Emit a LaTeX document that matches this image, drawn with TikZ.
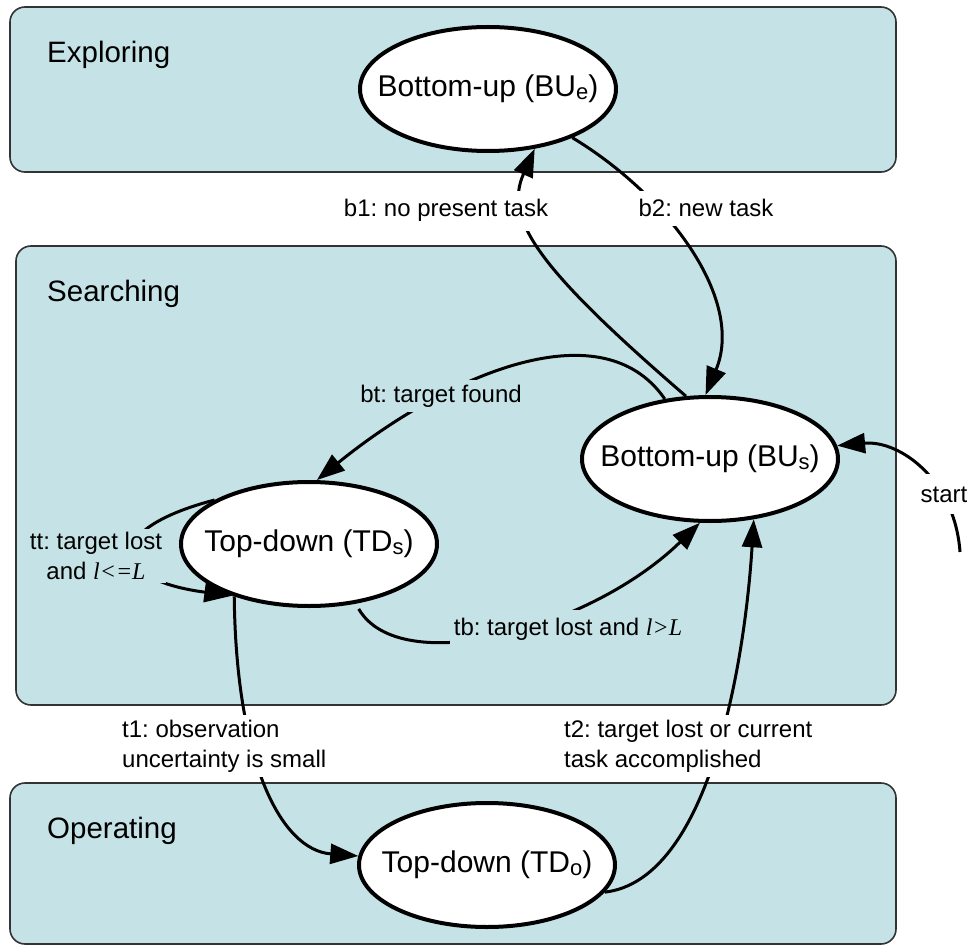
\documentclass[tikz,border=0pt]{standalone}
\usepackage{fontspec}
\setmainfont{Liberation Sans}
\newfontfamily\serifit{Liberation Serif}
\usetikzlibrary{arrows.meta,shapes.geometric}
\definecolor{regionfill}{HTML}{C5E3E6}
\definecolor{regionline}{HTML}{333333}
\frenchspacing
\tikzset{
 region/.style={draw=regionline, line width=1.6pt, fill=regionfill, rounded corners=15pt},
 regiontitle/.style={anchor=base west, font=\fontsize{29.5}{34}\selectfont, inner sep=0pt},
 state/.style={ellipse, draw=black, line width=4pt, fill=white, minimum width=256pt, minimum height=124pt, inner sep=0pt, font=\fontsize{30}{34}\selectfont},
 conn/.style={draw=black, line width=3pt, -{Triangle[length=28pt,width=20pt]}},
 lab/.style={font=\fontsize{24}{30}\selectfont, inner xsep=4pt, inner ysep=5pt},
 labw/.style={lab, fill=white},
 labt/.style={lab, fill=regionfill},
}
\newcommand{\sbs}[1]{\raisebox{-3pt}{\fontsize{22}{22}\selectfont #1}}
\newcommand{\lvar}[1]{{\serifit\itshape #1}}
\begin{document}
\begin{tikzpicture}[x=1pt,y=-1pt]
\useasboundingbox (0,0) rectangle (970,947);
% regions
\path[region] (10,7) rectangle (896,172);
\path[region] (16,246) rectangle (896,705);
\path[region] (10,783) rectangle (896,944);
\node[regiontitle] (texp) at (47,63) {Exploring};
\node[regiontitle] (tsea) at (47,301) {Searching};
\node[regiontitle] (tope) at (47,838) {Operating};
% states
\node[state] (bue) at (488,89) {\makebox[0pt]{Bottom-up (BU\sbs{e})}};
\node[state] (bus) at (710,459) {\makebox[0pt]{Bottom-up (BU\sbs{s})}};
\node[state] (tds) at (309,544) {\makebox[0pt]{Top-down (TD\sbs{s})}};
\node[state] (tdo) at (487,865) {\makebox[0pt]{Top-down (TD\sbs{o})}};
\coordinate (startpt) at (960,552);
% connectors
\draw[conn] (bus.111) .. controls (535,266) and (504,218) .. (bue.-52);
\draw[conn] (bue.-30) .. controls (669,196) and (745,300) .. (bus.94);
\draw[conn] (bus.127) .. controls (600,305) and (440,380) .. (tds.83);
\draw[conn] (tds.155) .. controls (100,530) and (110,580) .. (tds.214);
\draw[conn, shorten <=6pt] (tds.-52) .. controls (400,680) and (590,630) .. (bus.261);
\draw[conn] (tds.-145) .. controls (236,760) and (280,850) .. (tdo.176);
\draw[conn] (tdo.-13) .. controls (710,880) and (745,660) .. (bus.-54);
\draw[conn] (startpt) .. controls (955,480) and (900,440) .. (bus.6);
% labels
\node[labw, anchor=base, inner ysep=9pt] (lb1) at (446,217) {b1: no present task};
\node[labw, anchor=base, inner ysep=9pt] (lb2) at (706,217) {b2: new task};
\node[labt, anchor=base] (lbt) at (441,402) {bt: target found};
\node[labt, align=center, inner ysep=3pt] (ltt) at (96,556) {tt: target lost\\and \lvar{l<=L}};
\node[labt, anchor=base, inner ysep=8pt] (ltb) at (568,635) {tb: target lost and \lvar{l>L}};
\node[labw, align=left, anchor=west] (lt1) at (118,746) {t1: observation\\uncertainty is small};
\node[labw, align=left, anchor=west] (lt2) at (560,746) {t2: target lost or current\\task accomplished};
\node[labw, anchor=base, inner ysep=12pt] (lst) at (944,502) {start};
\end{tikzpicture}
\end{document}
